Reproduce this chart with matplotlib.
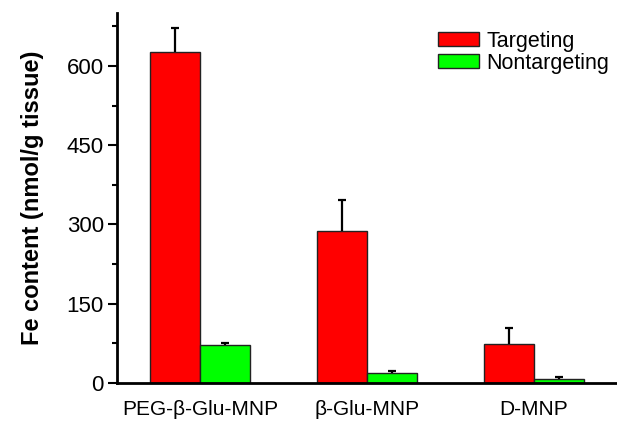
import numpy as np
import matplotlib
matplotlib.use("Agg")
import matplotlib.pyplot as plt
from matplotlib.ticker import MultipleLocator

plt.rcParams["font.family"] = ["Liberation Sans", "DejaVu Sans"]

# ── Data ──────────────────────────────────────────────────────────────────────
groups = ["PEG-\u03b2-Glu-MNP", "\u03b2-Glu-MNP", "D-MNP"]
targeting = [626, 288, 74]
targeting_err = [46, 58, 30]
nontargeting = [71, 18, 8]
nontargeting_err = [4, 5, 4]

# ── Figure ────────────────────────────────────────────────────────────────────
fig = plt.figure(figsize=(6.17, 4.26), dpi=100)
ax = fig.add_axes([117 / 617, 1 - 383 / 426, 1 - 117 / 617, (383 - 13) / 426])

x = np.arange(len(groups))
w = 0.3
err_kw = dict(ecolor="black", elinewidth=1.6, capsize=3, capthick=1.6)

for offset, vals, errs, color, label in [
        (-w / 2, targeting, targeting_err, "#ff0000", "Targeting"),
        (w / 2, nontargeting, nontargeting_err, "#00ff00", "Nontargeting")]:
    bars = ax.bar(x + offset, vals, w, color=color, edgecolor="#222222",
                  linewidth=1, label=label,
                  yerr=[np.zeros(len(x)), errs], error_kw=err_kw)
    # hide the lower caps (one-sided error bars)
    caps = bars.errorbar.lines[1]
    caps[0].set_visible(False)

ax.set_xlim(-0.5, 2.5)
ax.set_ylim(0, 700)
ax.set_xticks(x)
ax.set_xticklabels(groups, fontsize=15)
ax.yaxis.set_major_locator(MultipleLocator(150))
ax.yaxis.set_minor_locator(MultipleLocator(75))
ax.tick_params(axis="y", which="major", direction="out", length=6.5, width=1.5,
               labelsize=16, pad=3)
ax.tick_params(axis="y", which="minor", direction="out", length=3.5, width=1.5)
ax.tick_params(axis="x", length=0, pad=12)

for side in ("top", "right"):
    ax.spines[side].set_visible(False)
for side in ("left", "bottom"):
    ax.spines[side].set_linewidth(2)

ax.set_ylabel("Fe content (nmol/g tissue)", fontsize=17, fontweight="bold",
              labelpad=16)

ax.legend(loc="upper left", bbox_to_anchor=(429 / 617, 1 - 22 / 426),
          bbox_transform=fig.transFigure, frameon=False, fontsize=15.5,
          handlelength=1.9, handleheight=0.65, handletextpad=0.35,
          labelspacing=0.05, borderaxespad=0)

fig.savefig("out.png", dpi=100)
